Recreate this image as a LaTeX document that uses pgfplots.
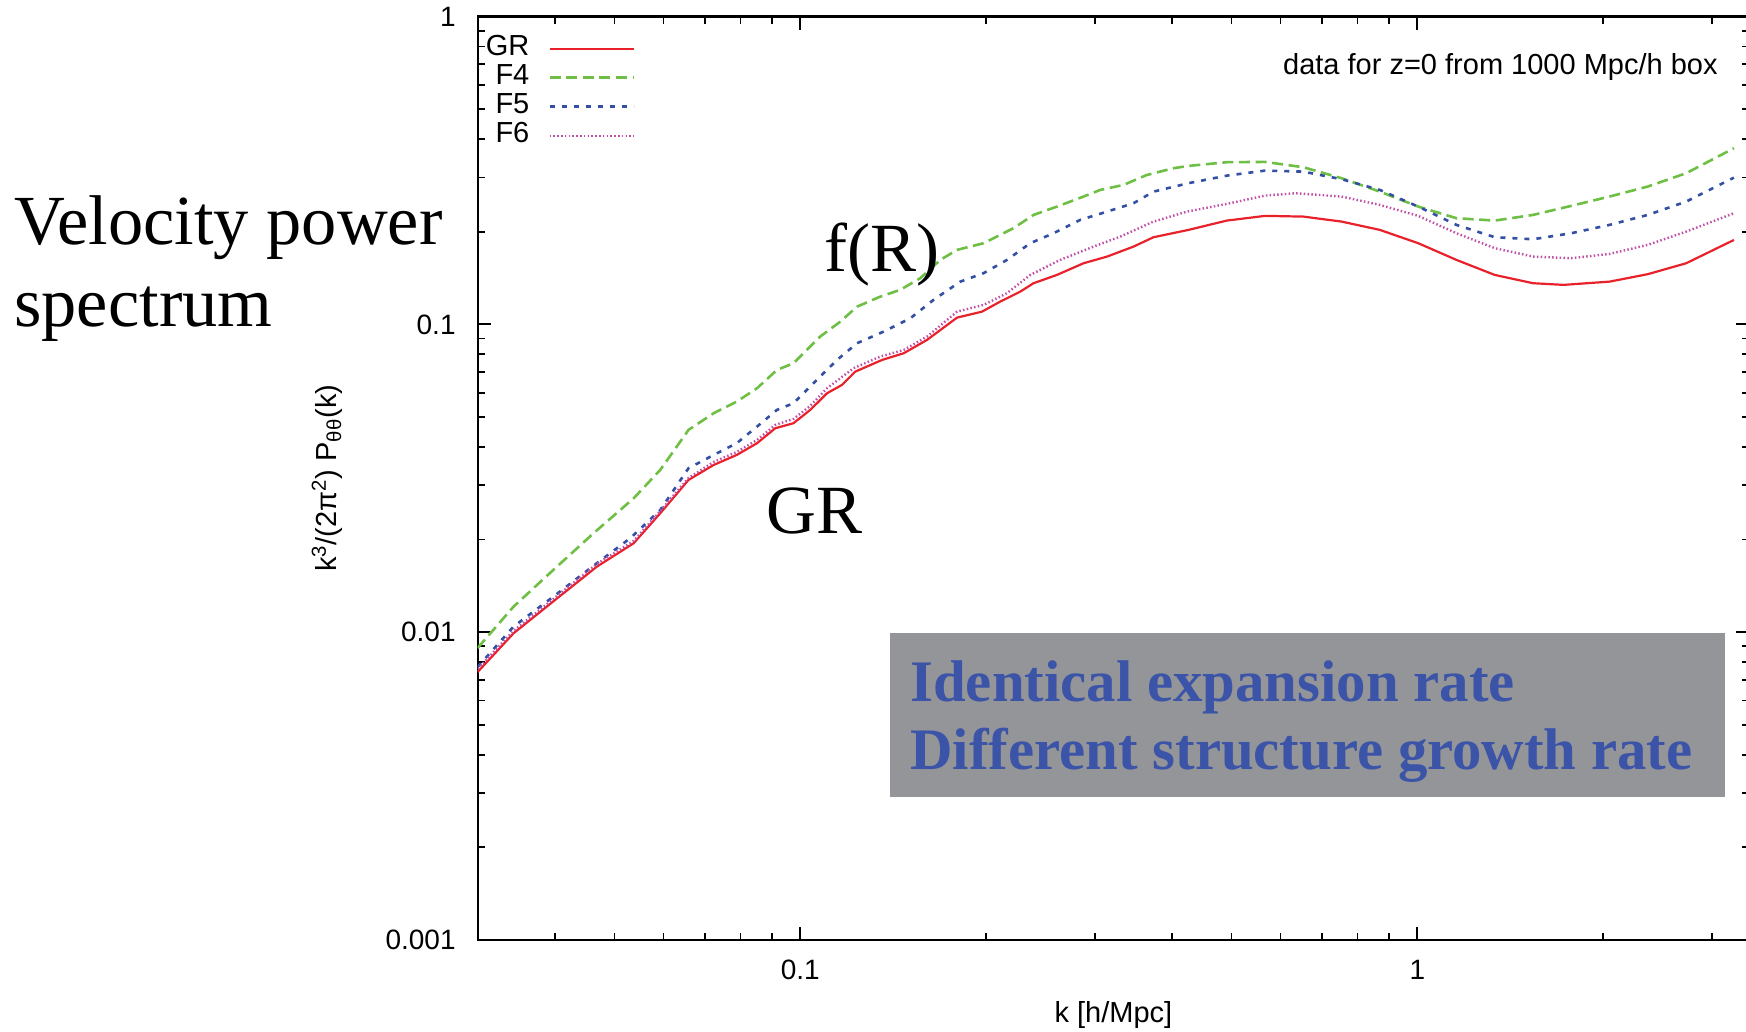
\documentclass[border=0pt]{standalone}
\usepackage{fontspec}
\setmainfont{Liberation Sans}
\newfontfamily\serif{Liberation Serif}
\usepackage{pgfplots}
\pgfplotsset{compat=1.18}
\definecolor{grR}{HTML}{E8212B}
\definecolor{fG}{HTML}{6FBF45}
\definecolor{fB}{HTML}{3450A4}
\definecolor{fM}{HTML}{C24FA6}
\definecolor{boxgray}{HTML}{949599}
\definecolor{boxblue}{HTML}{3B54A8}
\begin{document}
\begin{tikzpicture}
\useasboundingbox (0,0) rectangle (873pt,516pt);
\begin{axis}[
  at={(238.85pt,46pt)}, anchor=south west,
  scale only axis, width=635.7pt, height=461.7pt,
  xmode=log, ymode=log,
  xmin=0.03, xmax=3.45, ymin=0.001, ymax=1,
  xtick={0.1,1}, xticklabels={0.1,1},
  ytick={0.001,0.01,0.1,1}, yticklabels={0.001,0.01,0.1,1},
  minor xtick={0.04,0.05,0.06,0.07,0.08,0.09,0.2,0.3,0.4,0.5,0.6,0.7,0.8,0.9,2,3},
  minor ytick={0.002,0.003,0.004,0.005,0.006,0.007,0.008,0.009,0.02,0.03,0.04,0.05,0.06,0.07,0.08,0.09,0.2,0.3,0.4,0.5,0.6,0.7,0.8,0.9},
  major tick length=6.5pt, minor tick length=3.5pt,
  tick align=inside, xtick pos=both, ytick pos=both,
  every tick/.style={black, line width=0.9pt},
  axis line style={line width=1.1pt},
  /pgf/number format/assume math mode=true,
  tick label style={font=\fontsize{14}{16}\selectfont, inner sep=0pt},
  xticklabel shift=10pt, yticklabel shift=10.85pt,
  xlabel={k [h/Mpc]},
  xlabel style={at={(axis description cs:0.5,-0.0888)}, anchor=base, inner sep=0pt, font=\fontsize{14.5}{17}\selectfont},
  ylabel={k\textsuperscript{3}/(2π\textsuperscript{2}) P\textsubscript{θθ}(k)},
  ylabel style={at={(axis description cs:-0.1185,0.5)}, anchor=center, inner sep=0pt, font=\fontsize{14.5}{17}\selectfont},
  legend style={at={(axis description cs:0.0061,0.9813)}, anchor=north west, draw=none, fill=none, inner sep=0pt,
    font=\fontsize{14.5}{17}\selectfont, column sep=9.5pt,
    nodes={inner sep=0pt, text height=10.5pt, text depth=4pt}},
  legend cell align=right, legend plot pos=right,
  legend image code/.code={\draw[#1] (0pt,0pt) -- (42pt,0pt);},
]
\addplot[grR, line width=1.1pt] coordinates {
(0.0300,0.00743) (0.0343,0.00992) (0.0398,0.0126) (0.0468,0.01633) (0.0537,0.01946)
(0.0593,0.02435) (0.0659,0.03125) (0.0724,0.03496) (0.0789,0.03767) (0.0851,0.04112)
(0.0911,0.0460) (0.0975,0.04775) (0.1038,0.05277) (0.1105,0.05976) (0.1168,0.06358)
(0.1228,0.07026) (0.1357,0.07667) (0.1471,0.0806) (0.1605,0.08905) (0.1795,0.1052)
(0.1970,0.1100) (0.2109,0.1186) (0.2273,0.1278) (0.2388,0.1361) (0.2606,0.1448)
(0.2878,0.1580) (0.3142,0.1661) (0.3469,0.1790) (0.3737,0.1920) (0.4259,0.2028)
(0.4912,0.2174) (0.5667,0.2252) (0.6535,0.2240) (0.754,0.2158) (0.8695,0.2028)
(1.0034,0.1836) (1.1575,0.1620) (1.335,0.1448) (1.540,0.1361) (1.726,0.1344)
(2.049,0.1377) (2.363,0.1456) (2.728,0.1580) (3.260,0.1881)
};
\addlegendentry{GR}
\addplot[fG, line width=1.3pt, dash pattern=on 5.5pt off 2.8pt] coordinates {
(0.0300,0.00889) (0.0343,0.01211) (0.0398,0.01594) (0.04624,0.02098) (0.0537,0.02724)
(0.0593,0.03368) (0.0659,0.04542) (0.0724,0.05148) (0.0789,0.05613) (0.0851,0.06204)
(0.09168,0.07116) (0.0975,0.0748) (0.1077,0.09128) (0.1161,0.1021) (0.1236,0.1142)
(0.1348,0.1231) (0.1452,0.1295) (0.1565,0.1413) (0.1686,0.1620) (0.1795,0.1746)
(0.1982,0.1836) (0.2216,0.2054) (0.2388,0.2268) (0.2606,0.2414) (0.2878,0.2602)
(0.3064,0.2735) (0.3342,0.2839) (0.3646,0.3059) (0.4027,0.3217) (0.4259,0.3273)
(0.4912,0.3365) (0.5667,0.3372) (0.6535,0.3241) (0.754,0.2985) (0.8695,0.2700)
(1.0034,0.2414) (1.1575,0.2213) (1.335,0.2174) (1.540,0.2268) (1.776,0.2427)
(2.049,0.2602) (2.363,0.2804) (2.728,0.3099) (3.260,0.3736)
};
\addlegendentry{F4}
\addplot[fB, line width=1.3pt, dash pattern=on 2.5pt off 3.5pt] coordinates {
(0.0300,0.00771) (0.0343,0.01043) (0.0398,0.01305) (0.0468,0.01676) (0.05302,0.0202)
(0.0593,0.02496) (0.0659,0.03411) (0.0724,0.03767) (0.0789,0.04112) (0.0851,0.04656)
(0.09168,0.05277) (0.0975,0.05546) (0.1077,0.06767) (0.1147,0.07667) (0.1236,0.08688)
(0.1365,0.09476) (0.1508,0.1047) (0.1644,0.1201) (0.1817,0.1377) (0.1982,0.1467)
(0.2163,0.1620) (0.2359,0.1836) (0.2573,0.1978) (0.2843,0.2186) (0.3142,0.2325)
(0.3469,0.2476) (0.3737,0.2700) (0.4259,0.2876) (0.4912,0.3043) (0.5667,0.3160)
(0.6535,0.3136) (0.754,0.2963) (0.8695,0.2735) (1.0034,0.2414) (1.1575,0.2105)
(1.335,0.1920) (1.540,0.1891) (1.776,0.1978) (2.049,0.2105) (2.363,0.2268)
(2.728,0.2506) (3.260,0.2998)
};
\addlegendentry{F5}
\addplot[fM, line width=1.2pt, dash pattern=on 0.75pt off 1.15pt] coordinates {
(0.0300,0.0076) (0.0343,0.0101) (0.0398,0.01283) (0.0468,0.01667) (0.0537,0.0198)
(0.0593,0.02477) (0.0659,0.03172) (0.0724,0.03576) (0.0789,0.03852) (0.0851,0.04213)
(0.0911,0.04715) (0.0975,0.04932) (0.1038,0.05437) (0.1105,0.06204) (0.1220,0.07207)
(0.1348,0.0786) (0.1471,0.08263) (0.1605,0.09128) (0.1795,0.1100) (0.1982,0.1157)
(0.2163,0.1263) (0.2359,0.1448) (0.2638,0.1620) (0.2988,0.1790) (0.3302,0.1929)
(0.3737,0.2158) (0.4233,0.2325) (0.4912,0.2463) (0.5667,0.2621) (0.6352,0.2668)
(0.754,0.2602) (0.8695,0.2445) (1.0034,0.2252) (1.1575,0.1978) (1.335,0.1769)
(1.540,0.1661) (1.776,0.1641) (2.049,0.1694) (2.363,0.1813) (2.728,0.2002)
(3.260,0.2297)
};
\addlegendentry{F6}
\end{axis}
\node[anchor=base east, inner sep=0pt, font=\fontsize{14.5}{17}\selectfont] at (859pt,478.5pt) {data for z=0 from 1000 Mpc/h box};
\node[anchor=base west, inner sep=0pt, font=\serif\fontsize{35.2}{41}\selectfont] at (7pt,393.5pt) {Velocity power};
\node[anchor=base west, inner sep=0pt, font=\serif\fontsize{35.2}{41}\selectfont] at (7pt,352.65pt) {spectrum};
\node[anchor=base west, inner sep=0pt, font=\serif\fontsize{34.5}{41}\selectfont] at (412pt,380.15pt) {f(R)};
\node[anchor=base west, inner sep=0pt, font=\serif\fontsize{34.5}{41}\selectfont] at (383pt,249.35pt) {GR};
\fill[boxgray] (445pt,117.65pt) rectangle (862.5pt,199.5pt);
\node[anchor=base west, inner sep=0pt, text=boxblue, font=\serif\bfseries\fontsize{29.4}{35}\selectfont] at (455pt,165.15pt) {Identical expansion rate};
\node[anchor=base west, inner sep=0pt, text=boxblue, font=\serif\bfseries\fontsize{29.4}{35}\selectfont] at (455pt,131pt) {Different structure growth rate};
\end{tikzpicture}
\end{document}
